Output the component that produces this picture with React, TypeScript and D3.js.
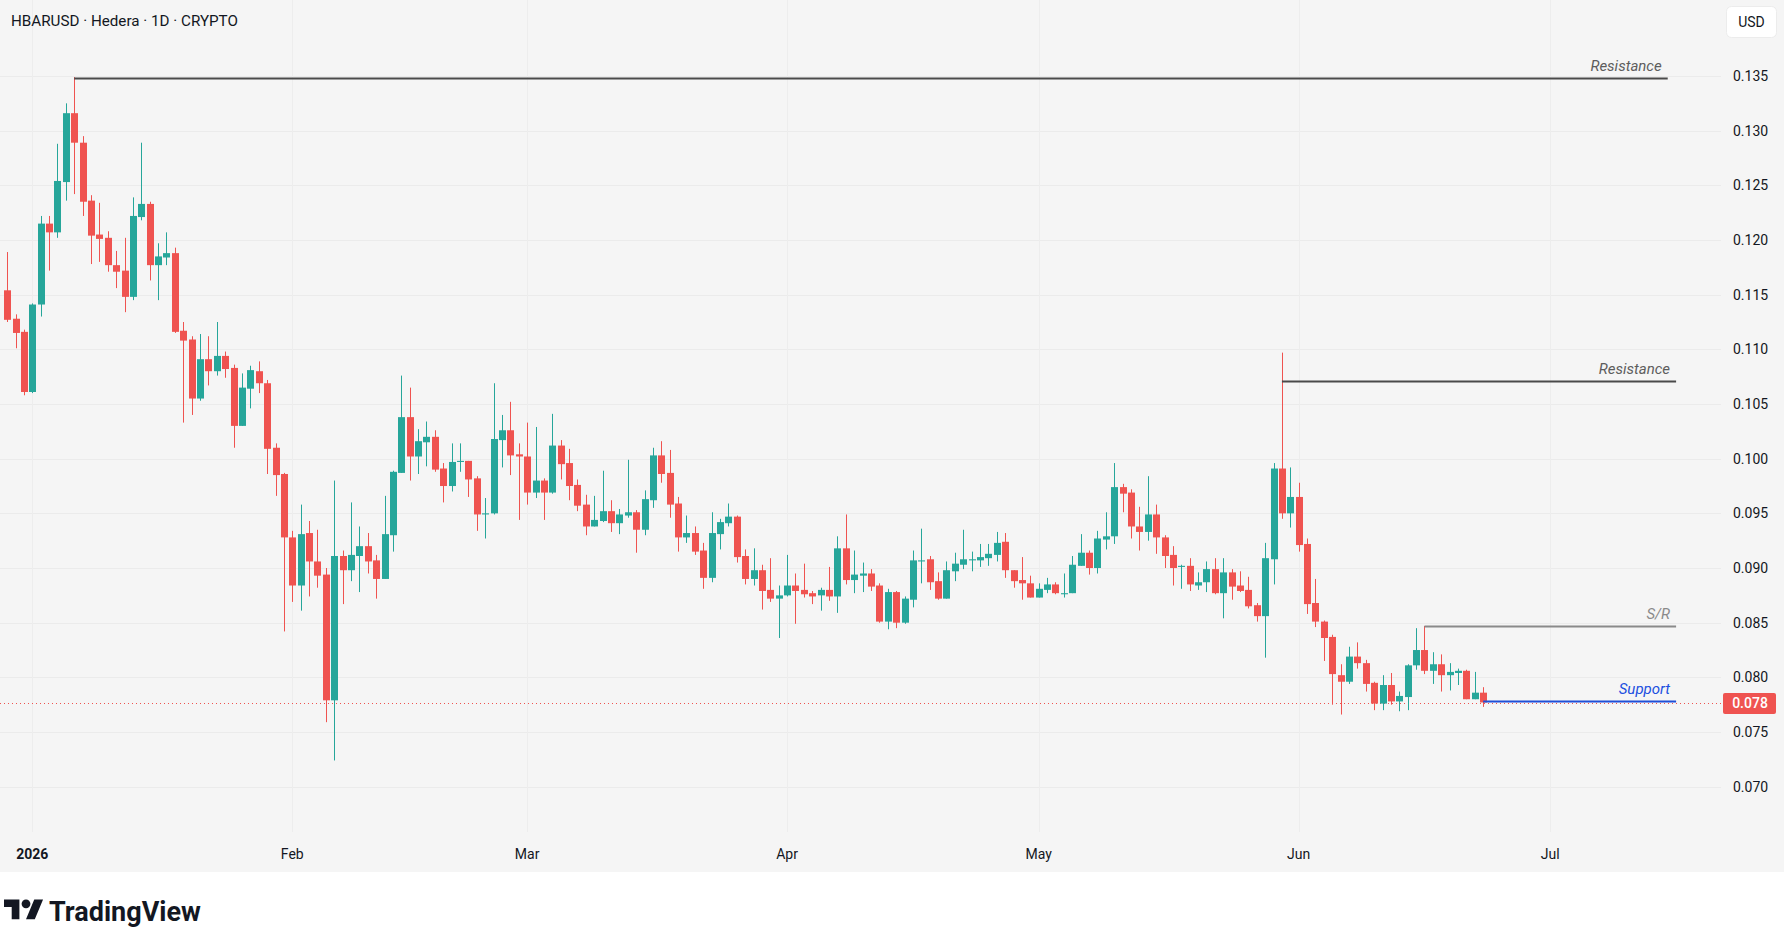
import React, { useRef, useEffect } from 'react';
import * as d3 from 'd3';

// daily candles, first one is 2025-12-29
const firstDay = new Date(Date.UTC(2025, 11, 29));

const opens = [
  0.1154, 0.1128, 0.1116, 0.1061, 0.1141, 0.1215, 0.1207, 0.1253, 0.1316, 0.1289, 0.1236, 0.1205, 0.1202, 0.1177, 0.1172, 0.1148,
  0.1221, 0.1233, 0.1177, 0.1184, 0.1188, 0.1117, 0.1109, 0.1055, 0.1091, 0.1080, 0.1094, 0.1083, 0.1030, 0.1064, 0.1080, 0.1069,
  0.1010, 0.0986, 0.0928, 0.0884, 0.0932, 0.0906, 0.0894, 0.0779, 0.0911, 0.0898, 0.0911, 0.0920, 0.0907, 0.0890, 0.0930, 0.0987,
  0.1038, 0.1002, 0.1015, 0.1020, 0.0991, 0.0975, 0.0997, 0.0998, 0.0982, 0.0949, 0.0950, 0.1017, 0.1026, 0.1004, 0.1002, 0.0969,
  0.0980, 0.0969, 0.1012, 0.0996, 0.0976, 0.0958, 0.0938, 0.0943, 0.0952, 0.0941, 0.0948, 0.0951, 0.0935, 0.0962, 0.1003, 0.0987,
  0.0959, 0.0928, 0.0932, 0.0916, 0.0891, 0.0931, 0.0941, 0.0947, 0.0911, 0.0890, 0.0898, 0.0880, 0.0872, 0.0875, 0.0884, 0.0880,
  0.0877, 0.0875, 0.0880, 0.0874, 0.0918, 0.0889, 0.0893, 0.0895, 0.0884, 0.0851, 0.0878, 0.0850, 0.0871, 0.0906, 0.0908, 0.0888,
  0.0872, 0.0897, 0.0903, 0.0907, 0.0907, 0.0909, 0.0912, 0.0924, 0.0898, 0.0889, 0.0886, 0.0873, 0.0880, 0.0885, 0.0876, 0.0877,
  0.0902, 0.0914, 0.0900, 0.0926, 0.0929, 0.0974, 0.0969, 0.0938, 0.0933, 0.0949, 0.0928, 0.0912, 0.0901, 0.0902, 0.0884, 0.0887,
  0.0899, 0.0877, 0.0896, 0.0884, 0.0880, 0.0866, 0.0856, 0.0908, 0.0991, 0.0950, 0.0965, 0.0922, 0.0868, 0.0851, 0.0837, 0.0802,
  0.0796, 0.0819, 0.0813, 0.0795, 0.0776, 0.0793, 0.0778, 0.0782, 0.0811, 0.0825, 0.0806, 0.0812, 0.0802, 0.0804, 0.0806, 0.0780,
  0.0786,
];
const highs = [
  0.1189, 0.1132, 0.1118, 0.1142, 0.1222, 0.1222, 0.1288, 0.1325, 0.1349, 0.1295, 0.1241, 0.1234, 0.1208, 0.1190, 0.1202, 0.1239,
  0.1289, 0.1235, 0.1197, 0.1207, 0.1193, 0.1125, 0.1112, 0.1114, 0.1112, 0.1125, 0.1098, 0.1086, 0.1078, 0.1085, 0.1089, 0.1072,
  0.1014, 0.0987, 0.0934, 0.0958, 0.0943, 0.0935, 0.0900, 0.0980, 0.0916, 0.0960, 0.0938, 0.0932, 0.0912, 0.0966, 0.0989, 0.1076,
  0.1065, 0.1027, 0.1034, 0.1026, 0.0996, 0.1014, 0.1014, 0.0998, 0.0984, 0.0964, 0.1069, 0.1040, 0.1052, 0.1014, 0.1033, 0.1029,
  0.0982, 0.1041, 0.1017, 0.1009, 0.0981, 0.0967, 0.0966, 0.0989, 0.0962, 0.0954, 0.0999, 0.0953, 0.0971, 0.1010, 0.1016, 0.1008,
  0.0965, 0.0948, 0.0938, 0.0923, 0.0951, 0.0945, 0.0959, 0.0948, 0.0917, 0.0918, 0.0903, 0.0909, 0.0884, 0.0912, 0.0895, 0.0904,
  0.0879, 0.0882, 0.0901, 0.0929, 0.0949, 0.0916, 0.0905, 0.0899, 0.0886, 0.0881, 0.0879, 0.0874, 0.0916, 0.0936, 0.0911, 0.0896,
  0.0906, 0.0914, 0.0935, 0.0915, 0.0922, 0.0922, 0.0933, 0.0932, 0.0898, 0.0910, 0.0893, 0.0886, 0.0891, 0.0887, 0.0895, 0.0911,
  0.0931, 0.0916, 0.0934, 0.0951, 0.0996, 0.0977, 0.0972, 0.0956, 0.0984, 0.0958, 0.0930, 0.0920, 0.0903, 0.0909, 0.0896, 0.0906,
  0.0909, 0.0909, 0.0899, 0.0897, 0.0892, 0.0868, 0.0923, 0.0996, 0.1097, 0.0992, 0.0978, 0.0927, 0.0890, 0.0852, 0.0839, 0.0812,
  0.0828, 0.0832, 0.0816, 0.0796, 0.0802, 0.0804, 0.0787, 0.0812, 0.0845, 0.0847, 0.0823, 0.0821, 0.0813, 0.0808, 0.0807, 0.0805,
  0.0791,
];
const lows = [
  0.1125, 0.1101, 0.1058, 0.1060, 0.1130, 0.1172, 0.1202, 0.1236, 0.1242, 0.1222, 0.1178, 0.1180, 0.1171, 0.1156, 0.1134, 0.1145,
  0.1218, 0.1163, 0.1145, 0.1177, 0.1115, 0.1033, 0.1040, 0.1053, 0.1067, 0.1076, 0.1074, 0.1010, 0.1030, 0.1046, 0.1060, 0.0986,
  0.0966, 0.0842, 0.0869, 0.0861, 0.0874, 0.0882, 0.0759, 0.0724, 0.0867, 0.0888, 0.0878, 0.0895, 0.0872, 0.0890, 0.0915, 0.0987,
  0.0980, 0.0986, 0.0993, 0.0988, 0.0960, 0.0970, 0.0988, 0.0965, 0.0934, 0.0927, 0.0949, 0.0992, 0.0985, 0.0944, 0.0958, 0.0964,
  0.0944, 0.0968, 0.0981, 0.0962, 0.0952, 0.0930, 0.0938, 0.0942, 0.0933, 0.0931, 0.0946, 0.0914, 0.0930, 0.0955, 0.0978, 0.0946,
  0.0915, 0.0923, 0.0912, 0.0881, 0.0887, 0.0917, 0.0938, 0.0905, 0.0885, 0.0884, 0.0862, 0.0869, 0.0836, 0.0874, 0.0849, 0.0873,
  0.0867, 0.0861, 0.0870, 0.0859, 0.0885, 0.0877, 0.0878, 0.0879, 0.0850, 0.0844, 0.0845, 0.0849, 0.0864, 0.0886, 0.0880, 0.0871,
  0.0872, 0.0888, 0.0899, 0.0897, 0.0901, 0.0902, 0.0906, 0.0891, 0.0882, 0.0871, 0.0873, 0.0873, 0.0877, 0.0876, 0.0873, 0.0877,
  0.0902, 0.0894, 0.0895, 0.0917, 0.0922, 0.0951, 0.0927, 0.0916, 0.0925, 0.0913, 0.0900, 0.0884, 0.0881, 0.0879, 0.0880, 0.0878,
  0.0876, 0.0854, 0.0871, 0.0878, 0.0863, 0.0851, 0.0818, 0.0885, 0.0945, 0.0937, 0.0915, 0.0858, 0.0846, 0.0815, 0.0775, 0.0766,
  0.0794, 0.0808, 0.0787, 0.0770, 0.0770, 0.0775, 0.0769, 0.0770, 0.0807, 0.0803, 0.0794, 0.0787, 0.0788, 0.0793, 0.0780, 0.0780,
  0.0773,
];
const closes = [
  0.1127, 0.1115, 0.1061, 0.1141, 0.1215, 0.1207, 0.1254, 0.1316, 0.1289, 0.1235, 0.1204, 0.1201, 0.1177, 0.1171, 0.1148, 0.1222,
  0.1233, 0.1177, 0.1185, 0.1188, 0.1116, 0.1108, 0.1055, 0.1091, 0.1080, 0.1094, 0.1082, 0.1030, 0.1065, 0.1081, 0.1069, 0.1009,
  0.0985, 0.0928, 0.0884, 0.0931, 0.0906, 0.0893, 0.0779, 0.0911, 0.0898, 0.0912, 0.0920, 0.0906, 0.0890, 0.0931, 0.0988, 0.1038,
  0.1002, 0.1016, 0.1020, 0.0990, 0.0975, 0.0997, 0.0998, 0.0981, 0.0949, 0.0950, 0.1018, 0.1026, 0.1003, 0.1002, 0.0969, 0.0980,
  0.0969, 0.1012, 0.0995, 0.0975, 0.0957, 0.0938, 0.0944, 0.0952, 0.0941, 0.0949, 0.0951, 0.0935, 0.0963, 0.1003, 0.0986, 0.0958,
  0.0928, 0.0932, 0.0915, 0.0891, 0.0932, 0.0942, 0.0947, 0.0910, 0.0890, 0.0898, 0.0879, 0.0872, 0.0875, 0.0884, 0.0879, 0.0876,
  0.0874, 0.0880, 0.0874, 0.0918, 0.0889, 0.0894, 0.0895, 0.0883, 0.0851, 0.0878, 0.0850, 0.0872, 0.0907, 0.0907, 0.0887, 0.0872,
  0.0898, 0.0904, 0.0908, 0.0908, 0.0910, 0.0913, 0.0923, 0.0898, 0.0888, 0.0886, 0.0873, 0.0881, 0.0885, 0.0877, 0.0877, 0.0903,
  0.0914, 0.0900, 0.0927, 0.0929, 0.0974, 0.0968, 0.0938, 0.0933, 0.0949, 0.0928, 0.0911, 0.0900, 0.0902, 0.0885, 0.0887, 0.0899,
  0.0877, 0.0896, 0.0883, 0.0879, 0.0865, 0.0856, 0.0909, 0.0991, 0.0950, 0.0965, 0.0921, 0.0867, 0.0851, 0.0836, 0.0803, 0.0796,
  0.0819, 0.0813, 0.0794, 0.0776, 0.0793, 0.0778, 0.0783, 0.0811, 0.0825, 0.0806, 0.0812, 0.0802, 0.0805, 0.0806, 0.0780, 0.0786,
  0.0777,
];

const priceTicks = [0.135, 0.13, 0.125, 0.12, 0.115, 0.11, 0.105, 0.1, 0.095, 0.09, 0.085, 0.08, 0.075, 0.07];
const monthLabels = ["2026", "Feb", "Mar", "Apr", "May", "Jun", "Jul"];
const monthDates = [0, 1, 2, 3, 4, 5, 6].map(m => new Date(Date.UTC(2026, m, 1)));

// drawn levels
const levelNames = ["Resistance", "Resistance", "S/R", "Support"];
const levelValues = [0.1348, 0.1071, 0.0847, 0.0778];
const levelFrom = [new Date(Date.UTC(2026, 0, 6)), new Date(Date.UTC(2026, 4, 30)), new Date(Date.UTC(2026, 5, 16)), new Date(Date.UTC(2026, 5, 23))];
const levelTo = [new Date(Date.UTC(2026, 6, 15)), new Date(Date.UTC(2026, 6, 16)), new Date(Date.UTC(2026, 6, 16)), new Date(Date.UTC(2026, 6, 16))];
const levelColors = ["#4a4a4a", "#4a4a4a", "#8a8a8a", "#1f4fd8"];
const labelColors = ["#5d5d5d", "#5d5d5d", "#8a8a8a", "#2150e0"];

const UP = "#26a69a";
const DOWN = "#ef5350";

const App = () => {
  const ref = useRef(null);

  useEffect(() => {
    if (!ref.current) return;
    const svg = d3.select(ref.current);
    svg.selectAll("*").remove();

    const plotRight = 1721;
    const paneBottom = 832;
    const font = "Roboto, 'Noto Sans', sans-serif";

    const x = d3.scaleUtc()
      .domain([Date.UTC(2026, 0, 1), Date.UTC(2026, 6, 1)])
      .range([32.3, 1550.3]);
    const y = d3.scaleLinear().domain([0.07, 0.135]).range([786.7, 76]);

    const dates = d3.utcDay.range(firstDay, d3.utcDay.offset(firstDay, opens.length));
    const candles = dates.map((d, i) => ({ d, o: opens[i], h: highs[i], l: lows[i], c: closes[i] }));

    svg.append("rect").attr("x", 0).attr("y", 0).attr("width", 1784).attr("height", 872).attr("fill", "#f5f5f5");

    // grid
    svg.append("g").selectAll("line").data(priceTicks).join("line")
      .attr("x1", 0).attr("x2", plotRight)
      .attr("y1", d => Math.round(y(d)) + 0.5).attr("y2", d => Math.round(y(d)) + 0.5)
      .attr("stroke", "#ebebeb");
    svg.append("g").selectAll("line").data(monthDates).join("line")
      .attr("x1", d => Math.round(x(d)) + 0.5).attr("x2", d => Math.round(x(d)) + 0.5)
      .attr("y1", 0).attr("y2", paneBottom)
      .attr("stroke", "#ededed");

    // last price dotted line
    const last = candles[candles.length - 1];
    svg.append("line")
      .attr("x1", 0).attr("x2", plotRight)
      .attr("y1", Math.round(y(last.c)) + 0.5).attr("y2", Math.round(y(last.c)) + 0.5)
      .attr("stroke", DOWN).attr("stroke-dasharray", "1,3");

    // candles
    const g = svg.append("g");
    const cg = g.selectAll("g").data(candles).join("g");
    cg.append("line")
      .attr("x1", d => Math.round(x(d.d)) + 0.5).attr("x2", d => Math.round(x(d.d)) + 0.5)
      .attr("y1", d => y(d.h)).attr("y2", d => y(d.l))
      .attr("stroke", d => d.c >= d.o ? UP : DOWN);
    cg.append("rect")
      .attr("x", d => Math.round(x(d.d)) - 3)
      .attr("width", 7)
      .attr("y", d => y(Math.max(d.o, d.c)))
      .attr("height", d => Math.max(1, Math.abs(y(d.o) - y(d.c))))
      .attr("fill", d => d.c >= d.o ? UP : DOWN);

    // levels
    levelNames.forEach((name, i) => {
      const ly = Math.round(y(levelValues[i])) + 0.5;
      const x2 = x(levelTo[i]);
      svg.append("line")
        .attr("x1", x(levelFrom[i])).attr("x2", x2)
        .attr("y1", ly).attr("y2", ly)
        .attr("stroke", levelColors[i]).attr("stroke-width", 2);
      svg.append("text")
        .attr("x", x2 - 6).attr("y", ly - 8)
        .attr("text-anchor", "end")
        .style("font-family", font).style("font-style", "italic").style("font-size", "15px")
        .attr("fill", labelColors[i])
        .text(name);
    });

    // price axis
    svg.append("g").selectAll("text").data(priceTicks).join("text")
      .attr("x", 1733).attr("y", d => y(d) + 5)
      .style("font-family", font).style("font-size", "14px")
      .attr("fill", "#131722")
      .text(d => d.toFixed(3));

    svg.append("rect").attr("x", 1723).attr("y", Math.round(y(last.c)) - 10).attr("width", 53).attr("height", 21)
      .attr("rx", 2).attr("fill", DOWN);
    svg.append("text").attr("x", 1750).attr("y", y(last.c) + 5.5)
      .attr("text-anchor", "middle")
      .style("font-family", font).style("font-size", "14px").style("font-weight", 500)
      .attr("fill", "#fff").text(last.c.toFixed(3));

    svg.append("rect").attr("x", 1726.5).attr("y", 6.5).attr("width", 50).attr("height", 31).attr("rx", 5)
      .attr("fill", "#fff").attr("stroke", "#ececec");
    svg.append("text").attr("x", 1751.5).attr("y", 27).attr("text-anchor", "middle")
      .style("font-family", font).style("font-size", "14px").attr("fill", "#131722").text("USD");

    // time axis
    svg.append("g").selectAll("text").data(monthDates).join("text")
      .attr("x", d => x(d)).attr("y", 859)
      .attr("text-anchor", "middle")
      .style("font-family", font).style("font-size", "14px")
      .style("font-weight", (d, i) => i === 0 ? 700 : 400)
      .attr("fill", "#131722")
      .text((d, i) => monthLabels[i]);

    // title
    svg.append("text").attr("x", 11).attr("y", 26)
      .style("font-family", font).style("font-size", "15.2px")
      .attr("fill", "#131722")
      .text("HBARUSD · Hedera · 1D · CRYPTO");

    // logo
    const logo = svg.append("g").attr("transform", "translate(4,895) scale(1.1)").attr("fill", "#131722");
    logo.append("path").attr("d", "M14 22H7V11H0V4h14v18zM28 22h-8l7.5-18h8L28 22z");
    logo.append("circle").attr("cx", 20).attr("cy", 8).attr("r", 4);
    svg.append("text").attr("x", 49).attr("y", 921)
      .style("font-family", font).style("font-size", "27px").style("font-weight", 700)
      .attr("fill", "#131722").text("TradingView");
  }, []);

  return <svg ref={ref} width={1790} height={947} style={{ position: "absolute", left: 0, top: 0, background: "#fff" }} />;
};

export default App;
